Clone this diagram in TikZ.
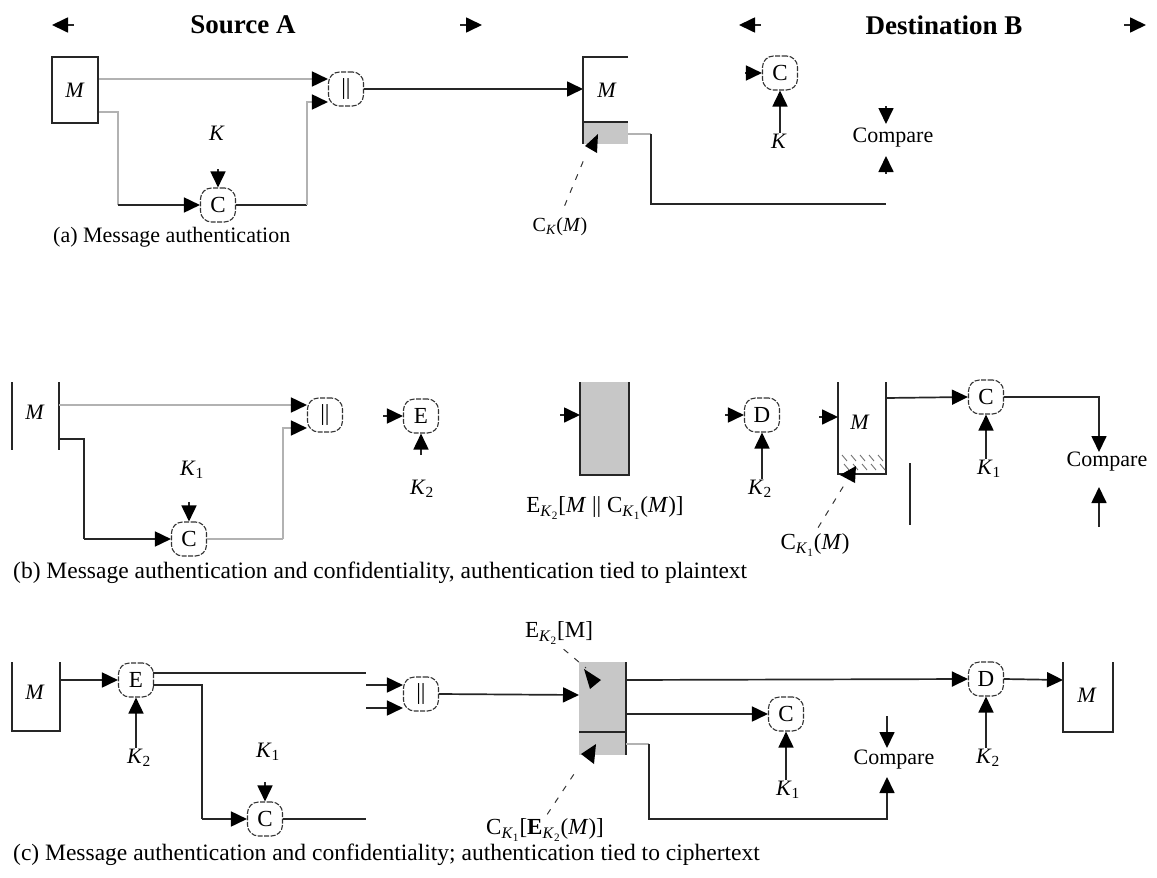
\documentclass[tikz,border=0pt]{standalone}
\usepackage{fontspec}
\setmainfont{Liberation Serif}
\usetikzlibrary{arrows.meta,calc}
\tikzset{
 dl/.style={line width=1.7pt, draw=black!85},
 gl/.style={line width=1.7pt, draw=black!30},
 arr/.style={-{Triangle[length=16pt,width=15pt,color=black]}},
 opnode/.style={draw=black!80, line width=1.1pt, dash pattern=on 5pt off 1.5pt, rounded corners=11pt, minimum width=35pt, minimum height=34pt, inner sep=0pt, font=\fontsize{23}{27}\selectfont},
 lbl/.style={font=\fontsize{22}{26}\selectfont, inner sep=1pt},
 smtxt/.style={font=\fontsize{22}{26}\selectfont, inner sep=1pt},
 subtxt/.style={font=\fontsize{23}{27}\selectfont, inner sep=1pt},
 captxt/.style={font=\fontsize{23.5}{27}\selectfont, anchor=west, inner sep=0pt},
 hdr/.style={font=\fontsize{27}{32}\selectfont\bfseries},
 leadline/.style={line width=1pt, draw=black!80, dash pattern=on 6pt off 8pt},
 hatchline/.style={line width=0.9pt, draw=black!55},
}
\begin{document}
\begin{tikzpicture}[x=1pt,y=-1pt]
\useasboundingbox (0,0) rectangle (1157,878);
% ---------------- header ----------------
\node[hdr] (srcA) at (243,25) {Source A};
\node[hdr] (dstB) at (944,25) {Destination B};
\coordinate (hA1s) at (74,25);  \coordinate (hA1) at (52,25);
\coordinate (hA2s) at (460,25); \coordinate (hA2) at (482,25);
\coordinate (hB1s) at (761,25); \coordinate (hB1) at (739,25);
\coordinate (hB2s) at (1124,25);\coordinate (hB2) at (1146,25);
\draw[dl,arr] (hA1s) -- (hA1);
\draw[dl,arr] (hA2s) -- (hA2);
\draw[dl,arr] (hB1s) -- (hB1);
\draw[dl,arr] (hB2s) -- (hB2);

% ---------------- (a) ----------------
\node[draw=black!85, line width=1.7pt, minimum width=46pt, minimum height=66pt, inner sep=0pt, font=\fontsize{22}{26}\selectfont] (Ma) at (75,90) {\textit{M}};
\node[opnode] (bara) at (346,89) {||};
\node[opnode] (Ca) at (218,205) {C};
\node[lbl] (Ka) at (217,133) {\textit{K}};
\coordinate (Kas) at (218,169);
\draw[gl,arr] ($(Ma.east)+(0,-11)$) -- ($(bara.west)+(0,-10)$);
\draw[gl] ($(Ma.east)+(0,22)$) -- (118,112) -- (118,205);
\draw[dl,arr] (118,205) -- (Ca.west);
\draw[dl] (Ca.east) -- (307,205);
\draw[gl,arr] (307,205) -- (307,102) -- ($(bara.west)+(0,13)$);
\draw[dl,arr] (Kas) -- (Ca.north);
\node[captxt, font=\fontsize{22}{26}\selectfont] (capa) at (53,237) {(a) Message authentication};

% destination (a)
\coordinate (Bain) at (583,89);
\draw[dl,arr] (bara.east) -- (Bain);
\fill[black!22] (583,122) rectangle (628,144);
\draw[dl] (628,57) -- (583,57) -- (583,144);
\draw[dl] (583,122) -- (628,122);
\node[lbl] (MBa) at (607,90) {\textit{M}};
\draw[gl] (628,134) -- (651,134);
\draw[dl] (651,134) -- (651,204) -- (886,204);
\node[font=\fontsize{20}{24}\selectfont, inner sep=1pt] (CKM) at (560,227) {C\textsubscript{\textit{K}}(\textit{M})};
\coordinate (ptA) at (585,157);
\draw[leadline, shorten <=12pt] (CKM.north) -- (ptA);
\fill (585,146) -- (598,134) -- (597,153) -- cycle;
\node[opnode] (CBa) at (780,73) {C};
\coordinate (CBas) at (745,73);
\draw[dl,arr] (CBas) -- (CBa.west);
\node[lbl] (KBa) at (779,141) {\textit{K}};
\draw[dl,arr] (CBa.south |- KBa.north) -- (CBa.south);
\node[smtxt] (cmpa) at (893,138) {Compare};
\coordinate (cmpa1) at (886,106); \coordinate (cmpa1e) at (886,124);
\coordinate (cmpa2) at (886,174); \coordinate (cmpa2e) at (886,156);
\draw[dl,arr] (cmpa1) -- (cmpa1e);
\draw[dl,arr] (cmpa2) -- (cmpa2e);

% ---------------- (b) ----------------
\draw[dl] (12,382) -- (12,450);
\draw[dl] (59,382) -- (59,450);
\node[lbl] (Mb) at (35,412) {\textit{M}};
\node[opnode] (barb) at (325,415) {||};
\node[opnode] (Cb) at (189,539) {C};
\node[lbl] (K1b) at (192,470) {\textit{K}\textsubscript{1}};
\coordinate (K1bs) at (189,502);
\draw[gl,arr] (59,405) -- ($(barb.west)+(0,-10)$);
\draw[dl] (59,439) -- (84,439) -- (84,539);
\draw[dl,arr] (84,539) -- (Cb.west);
\draw[gl] (Cb.east) -- (283,539);
\draw[gl,arr] (283,539) -- (283,428) -- ($(barb.west)+(0,13)$);
\draw[dl,arr] (K1bs) -- (Cb.north);
\node[opnode] (Eb) at (421,416) {E};
\coordinate (Ebs) at (383,416);
\draw[dl,arr] (Ebs) -- (Eb.west);
\coordinate (Ebk) at (421,455);
\draw[dl,arr] (Ebk) -- (Eb.south);
\node[lbl] (K2b) at (422,489) {\textit{K}\textsubscript{2}};
% transmitted block
\fill[black!22] (580,382) rectangle (629,475);
\draw[dl] (580,382) -- (580,475) -- (629,475) -- (629,382);
\coordinate (Tbs) at (560,415); \coordinate (Tb) at (580,415);
\draw[dl,arr] (Tbs) -- (Tb);
\node[subtxt] (Tblbl) at (605,508) {E\textsubscript{\textit{K}\textsubscript{2}}[\textit{M} || C\textsubscript{\textit{K}\textsubscript{1}}(\textit{M})]};
% destination (b)
\node[opnode] (Db) at (762,415) {D};
\coordinate (Dbs) at (725,415);
\draw[dl,arr] (Dbs) -- (Db.west);
\node[lbl] (K2bd) at (760,489) {\textit{K}\textsubscript{2}};
\draw[dl,arr] (Db.south |- K2bd.north) -- (Db.south);
\draw[dl] (838,382) -- (838,474) -- (886,474) -- (886,382);
\foreach \x in {842,851,...,878} {
  \draw[hatchline] (\x,455) -- (\x+5,461);
  \draw[hatchline] (\x+2,464) -- (\x+7,470);
}
\node[lbl] (MBb) at (860,422) {\textit{M}};
\coordinate (MBbs) at (819,417); \coordinate (MBbin) at (838,417);
\draw[dl,arr] (MBbs) -- (MBbin);
\node[subtxt] (CK1M) at (815,545) {C\textsubscript{\textit{K}\textsubscript{1}}(\textit{M})};
\coordinate (ptB) at (846,482);
\draw[leadline, shorten <=6pt] (CK1M.north) -- (ptB);
\fill (840,475) -- (856,466) -- (855,483) -- cycle;
\node[opnode] (Cdb) at (986,397) {C};
\draw[dl,arr] (886,398) -- (Cdb.west);
\node[lbl] (K1bd) at (989,469) {\textit{K}\textsubscript{1}};
\draw[dl,arr] (Cdb.south |- K1bd.north) -- (Cdb.south);
\node[smtxt] (cmpb) at (1107,462) {Compare};
\draw[dl,arr] (Cdb.east) -- (1099,397) -- (1099,452);
\coordinate (cmpbs) at (1099,527); \coordinate (cmpbe) at (1099,487);
\draw[dl,arr] (cmpbs) -- (cmpbe);
\draw[dl] (910,463) -- (910,525);
\node[captxt] (capb) at (13,573) {(b) Message authentication and confidentiality, authentication tied to plaintext};

% ---------------- (c) ----------------
\draw[dl] (12,662) -- (12,731) -- (60,731) -- (60,662);
\node[lbl] (Mc) at (35,692) {\textit{M}};
\node[opnode] (Ec) at (136,680) {E};
\draw[dl,arr] (60,680) -- (Ec.west);
\node[lbl] (K2c) at (139,758) {\textit{K}\textsubscript{2}};
\draw[dl,arr] (Ec.south |- K2c.north) -- (Ec.south);
\draw[dl] (153,673) -- (366,673);
\node[opnode] (Cc) at (265,819) {C};
\draw[dl] (153,685) -- (202,685) -- (202,819);
\draw[dl,arr] (202,819) -- (Cc.west);
\node[lbl] (K1c) at (268,752) {\textit{K}\textsubscript{1}};
\coordinate (K1cs) at (265,782);
\draw[dl,arr] (K1cs) -- (Cc.north);
\draw[dl] (Cc.east) -- (366,819);
\node[opnode] (barc) at (421,694) {||};
\coordinate (bc1) at (366,685); \coordinate (bc2) at (366,708);
\draw[dl,arr] (bc1) -- ($(barc.west)+(0,-9)$);
\draw[dl,arr] (bc2) -- ($(barc.west)+(0,14)$);
\coordinate (Tcin) at (579,695);
\draw[dl,arr] (barc.east) -- (Tcin);
\fill[black!22] (579,662) rectangle (626,755);
\draw[dl] (579,732) -- (626,732);
\draw[dl] (626,662) -- (626,755);
\node[subtxt] (EKM) at (559,633) {E\textsubscript{\textit{K}\textsubscript{2}}[M]};
\coordinate (ptC) at (586,668);
\draw[leadline, shorten <=6pt] (EKM.south) -- (ptC);
\fill (584,669) -- (601,680) -- (590,689) -- cycle;
\node[subtxt] (CKEKM) at (545,830) {C\textsubscript{\textit{K}\textsubscript{1}}[\textbf{E}\textsubscript{\textit{K}\textsubscript{2}}(\textit{M})]};
\coordinate (ptD) at (578,768);
\draw[leadline, shorten <=4pt] (CKEKM.north) -- (ptD);
\fill (581,754) -- (596,744) -- (594,764) -- cycle;
% destination (c)
\node[opnode] (Dc) at (986,679) {D};
\draw[dl,arr] (626,680) -- (Dc.west);
\node[opnode] (Cc2) at (786,714) {C};
\draw[dl,arr] (626,714) -- (Cc2.west);
\node[lbl] (K1d) at (788,790) {\textit{K}\textsubscript{1}};
\draw[dl,arr] (Cc2.south |- K1d.north) -- (Cc2.south);
\draw[gl] (626,744) -- (649,744);
\draw[dl,arr] (649,744) -- (649,819) -- (887,819) -- (887,777);
\node[smtxt] (cmpc) at (894,760) {Compare};
\coordinate (cmpcs) at (887,716); \coordinate (cmpce) at (887,748);
\draw[dl,arr] (cmpcs) -- (cmpce);
\node[lbl] (K2d) at (988,758) {\textit{K}\textsubscript{2}};
\draw[dl,arr] (Dc.south |- K2d.north) -- (Dc.south);
\coordinate (Mdin) at (1063,680);
\draw[dl,arr] (Dc.east) -- (Mdin);
\draw[dl] (1063,662) -- (1063,732) -- (1113,732) -- (1113,662);
\node[lbl] (Md) at (1087,695) {\textit{M}};
\node[captxt] (capc) at (13,855) {(c) Message authentication and confidentiality; authentication tied to ciphertext};
\end{tikzpicture}
\end{document}
